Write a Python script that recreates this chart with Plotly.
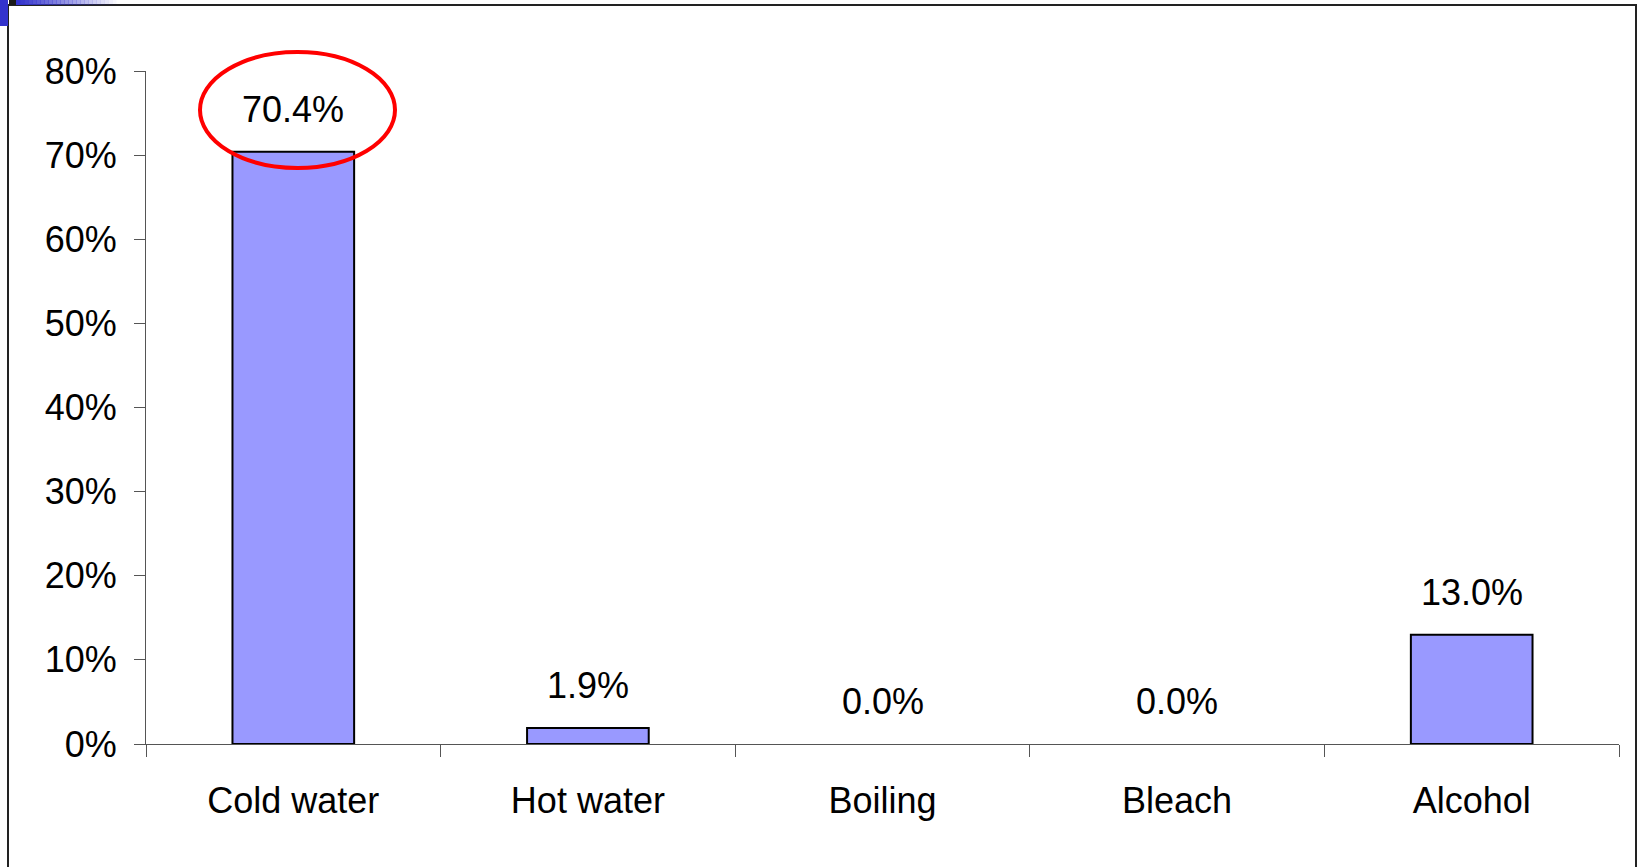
import plotly.graph_objects as go

categories = ["Cold water", "Hot water", "Boiling", "Bleach", "Alcohol"]
shares = [0.704, 0.019, 0.0, 0.0, 0.130]
y_ticks = [0, 0.1, 0.2, 0.3, 0.4, 0.5, 0.6, 0.7, 0.8]

W, H = 1641, 867
L, R, T, B = 146, 22, 71, 123
PW, PH = W - L - R, H - T - B

def px(x):
    return (x - L) / PW

def py(y):
    return (H - B - y) / PH

FONT = "Liberation Sans, Arial, sans-serif"
FS = 36

fig = go.Figure()
fig.add_trace(go.Bar(
    x=categories, y=shares,
    marker=dict(color="#9999FF",
                line=dict(color="#000000", width=[2 if v > 0 else 0 for v in shares])),
    hoverinfo="x+y",
))

for c, v in zip(categories, shares):
    fig.add_annotation(x=c, y=v, xref="x", yref="y", text=f"{v*100:.1f}%",
                       showarrow=False, yanchor="bottom", yshift=20,
                       font=dict(family=FONT, size=FS, color="#000000"))

shapes = []
# outer frame
shapes.append(dict(type="rect", xref="paper", yref="paper",
                   x0=px(8), x1=px(1636), y0=py(880), y1=py(5),
                   line=dict(color="#222222", width=2), fillcolor="rgba(0,0,0,0)", layer="above"))
# corner decoration
shapes.append(dict(type="rect", xref="paper", yref="paper",
                   x0=px(0), x1=px(8), y0=py(26), y1=py(0),
                   line=dict(width=0), fillcolor="#3333CC"))
shapes.append(dict(type="rect", xref="paper", yref="paper",
                   x0=px(9), x1=px(16), y0=py(5), y1=py(0),
                   line=dict(width=0), fillcolor="#1a1a1a"))
steps = 25
for i in range(steps):
    a = 1 - i / steps
    x0 = 16 + i * 100 / steps
    shapes.append(dict(type="rect", xref="paper", yref="paper",
                       x0=px(x0), x1=px(x0 + 100 / steps + 0.5), y0=py(5), y1=py(0),
                       line=dict(width=0), fillcolor=f"rgba(51,51,204,{a:.3f})"))
# highlight ellipse
shapes.append(dict(type="circle", xref="paper", yref="paper",
                   x0=px(200), x1=px(395), y0=py(168), y1=py(52),
                   line=dict(color="#FF0000", width=4), fillcolor="rgba(0,0,0,0)", layer="above"))

fig.update_layout(
    width=W, height=H,
    margin=dict(l=L, r=R, t=T, b=B),
    paper_bgcolor="white", plot_bgcolor="white",
    bargap=0.587,
    showlegend=False,
    shapes=shapes,
    font=dict(family=FONT, size=FS, color="#000000"),
    xaxis=dict(showline=True, linecolor="#555555", linewidth=1,
               ticks="outside", ticklen=12, tickcolor="#555555", tickwidth=1,
               tickson="boundaries", showgrid=False, zeroline=False,
               tickfont=dict(family=FONT, size=FS, color="#000000"),
               ticklabelstandoff=25),
    yaxis=dict(range=[0, 0.8], tickvals=y_ticks, tickformat=".0%",
               showline=True, linecolor="#555555", linewidth=1,
               ticks="outside", ticklen=11, tickcolor="#555555", tickwidth=1,
               showgrid=False, zeroline=False,
               tickfont=dict(family=FONT, size=FS, color="#000000"),
               ticklabelstandoff=10),
)

fig.write_html("out.html", config={"displayModeBar": False},
               post_script="document.body.style.margin='0px';document.body.style.overflow='hidden';")
